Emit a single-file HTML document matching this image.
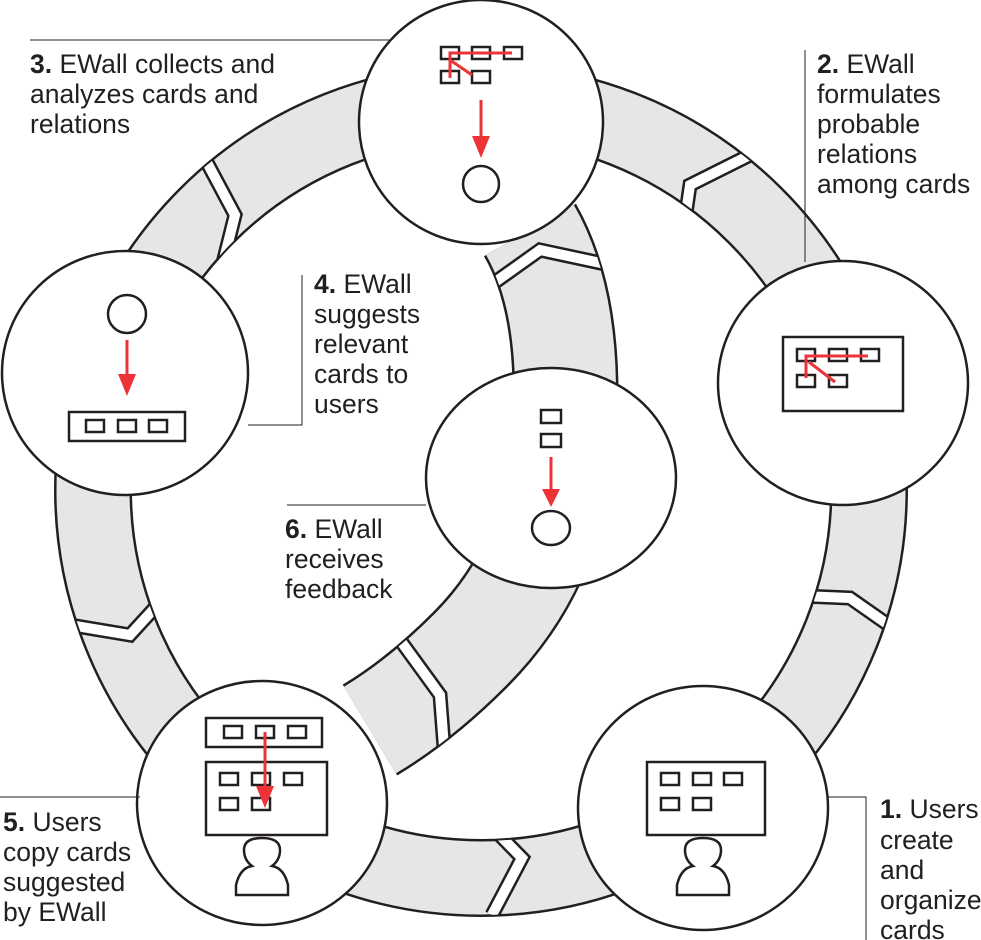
<!DOCTYPE html>
<html><head><meta charset="utf-8"><style>
html,body{margin:0;padding:0;background:#fff}
svg{display:block}
text{font-family:"Liberation Sans",Arial,sans-serif;font-size:26.5px;fill:#231f20}
</style></head><body>
<svg width="981" height="940" viewBox="0 0 981 940" xmlns="http://www.w3.org/2000/svg">
<defs>
<mask id="ringm"><rect width="981" height="940" fill="black"/><circle cx="481" cy="490" r="388" fill="none" stroke="white" stroke-width="74"/></mask>
<mask id="spm"><rect width="981" height="940" fill="black"/><path d="M530 230 Q570 300 565 420 Q560 560 470 650 Q420 700 370 730" fill="none" stroke="white" stroke-width="102"/></mask>
</defs>
<circle cx="481" cy="490" r="388" fill="none" stroke="#231f20" stroke-width="78"/>
<circle cx="481" cy="490" r="388" fill="none" stroke="#e6e6e6" stroke-width="73"/>
<g mask="url(#ringm)" fill="none" stroke-linejoin="miter">
<g stroke="#231f20" stroke-width="15">
<polyline points="480,815 522,858 492,915"/>
<polyline points="780,595 850,598 910,640"/>
<polyline points="680,255 690,185 760,150"/>
<polyline points="195,140 235,215 220,275"/>
<polyline points="40,620 130,635 185,575"/>
</g>
<g stroke="#fff" stroke-width="10">
<polyline points="480,815 522,858 492,915"/>
<polyline points="780,595 850,598 910,640"/>
<polyline points="680,255 690,185 760,150"/>
<polyline points="195,140 235,215 220,275"/>
<polyline points="40,620 130,635 185,575"/>
</g>
</g>
<path d="M530 230 Q570 300 565 420 Q560 560 470 650 Q420 700 370 730" fill="none" stroke="#231f20" stroke-width="106"/>
<path d="M530 230 Q570 300 565 420 Q560 560 470 650 Q420 700 370 730" fill="none" stroke="#e6e6e6" stroke-width="101"/>
<g mask="url(#spm)" fill="none">
<polyline points="470,300 540,250 610,265" stroke="#231f20" stroke-width="15"/>
<polyline points="470,300 540,250 610,265" stroke="#fff" stroke-width="10"/>
<polyline points="400,640 440,695 445,760" stroke="#231f20" stroke-width="15"/>
<polyline points="400,640 440,695 445,760" stroke="#fff" stroke-width="10"/>
</g>
<g fill="#fff" stroke="#231f20" stroke-width="2.5">
<ellipse cx="481" cy="122" rx="122" ry="122"/>
<ellipse cx="843" cy="383" rx="125" ry="122"/>
<ellipse cx="125" cy="373" rx="123" ry="122"/>
<ellipse cx="262" cy="803" rx="125" ry="122"/>
<ellipse cx="703" cy="808" rx="125" ry="122"/>
<ellipse cx="551" cy="478" rx="125" ry="110"/>
</g>
<g stroke="#231f20" stroke-width="1" fill="none">
<polyline points="30,40 390,40"/>
<polyline points="805,50 805,262"/>
<polyline points="302,275 302,425 248,425"/>
<polyline points="287,505 426,505"/>
<polyline points="0,797 140,797"/>
<polyline points="828,797 866,797 866,940"/>
</g>
<g fill="none" stroke="#231f20" stroke-width="2.5">
<rect x="441" y="47" width="18" height="12"/><rect x="472" y="47" width="18" height="12"/><rect x="504" y="47" width="18" height="12"/>
<rect x="441" y="71" width="18" height="12"/><rect x="472" y="71" width="18" height="12"/>
<circle cx="481" cy="184" r="18"/>
<rect x="783" y="337" width="120" height="74"/>
<rect x="797" y="349" width="18" height="12"/><rect x="829" y="349" width="18" height="12"/><rect x="861" y="349" width="18" height="12"/>
<rect x="797" y="375" width="18" height="12"/><rect x="829" y="375" width="18" height="12"/>
<circle cx="127" cy="314" r="19"/>
<rect x="69" y="412" width="116" height="29"/>
<rect x="86" y="420" width="18" height="12"/><rect x="118" y="420" width="18" height="12"/><rect x="149" y="420" width="18" height="12"/>
<rect x="541" y="410" width="20" height="13"/><rect x="541" y="434" width="20" height="13"/>
<ellipse cx="551" cy="528" rx="19" ry="17"/>
<rect x="206" y="718" width="116" height="29"/>
<rect x="224" y="726" width="18" height="12"/><rect x="256" y="726" width="18" height="12"/><rect x="288" y="726" width="18" height="12"/>
<rect x="206" y="762" width="121" height="73"/>
<rect x="220" y="773" width="18" height="12"/><rect x="252" y="773" width="18" height="12"/><rect x="284" y="773" width="18" height="12"/>
<rect x="220" y="798" width="18" height="12"/><rect x="252" y="798" width="18" height="12"/>
<path d="M236 895 L236 885 Q240 868 252 866 Q244 860 244 850 Q244 838 262 838 Q280 838 280 850 Q280 860 272 866 Q284 868 288 885 L288 895 Z"/>
<rect x="647" y="762" width="118" height="73"/>
<rect x="661" y="773" width="18" height="12"/><rect x="693" y="773" width="18" height="12"/><rect x="724" y="773" width="18" height="12"/>
<rect x="661" y="798" width="18" height="12"/><rect x="693" y="798" width="18" height="12"/>
<path d="M677 895 L677 885 Q681 868 693 866 Q685 860 685 850 Q685 838 703 838 Q721 838 721 850 Q721 860 713 866 Q725 868 729 885 L729 895 Z"/>
</g>
<g stroke="#ee3338" stroke-width="3" fill="none">
<polyline points="450,78 450,53 512,53"/><line x1="450" y1="60" x2="472" y2="75"/>
<line x1="481" y1="100" x2="481" y2="140"/>
<polyline points="806,378 806,356 868,356"/><line x1="809" y1="362" x2="835" y2="382"/>
<line x1="127" y1="340" x2="127" y2="378"/>
<line x1="551" y1="457" x2="551" y2="492"/>
<line x1="265" y1="732" x2="265" y2="788"/>
</g>
<g fill="#ee3338">
<polygon points="472,136 490,136 481,158"/>
<polygon points="118,374 136,374 127,396"/>
<polygon points="542,489 560,489 551,507"/>
<polygon points="256,786 274,786 265,808"/>
</g>
<text x="30" y="73"><tspan font-weight="bold">3.</tspan> EWall collects and</text>
<text x="30" y="103">analyzes cards and</text>
<text x="30" y="133">relations</text>
<text x="817" y="73"><tspan font-weight="bold">2.</tspan> EWall</text>
<text x="817" y="103">formulates</text>
<text x="817" y="133">probable</text>
<text x="817" y="163">relations</text>
<text x="817" y="193">among cards</text>
<text x="314" y="293"><tspan font-weight="bold">4.</tspan> EWall</text>
<text x="314" y="323">suggests</text>
<text x="314" y="353">relevant</text>
<text x="314" y="383">cards to</text>
<text x="314" y="413">users</text>
<text x="285" y="538"><tspan font-weight="bold">6.</tspan> EWall</text>
<text x="285" y="568">receives</text>
<text x="285" y="598">feedback</text>
<text x="3" y="831"><tspan font-weight="bold">5.</tspan> Users</text>
<text x="3" y="861">copy cards</text>
<text x="3" y="891">suggested</text>
<text x="3" y="921">by EWall</text>
<text x="880" y="818"><tspan font-weight="bold">1.</tspan> Users</text>
<text x="880" y="849">create</text>
<text x="880" y="879">and</text>
<text x="880" y="909">organize</text>
<text x="880" y="939">cards</text>
</svg>
</body></html>
